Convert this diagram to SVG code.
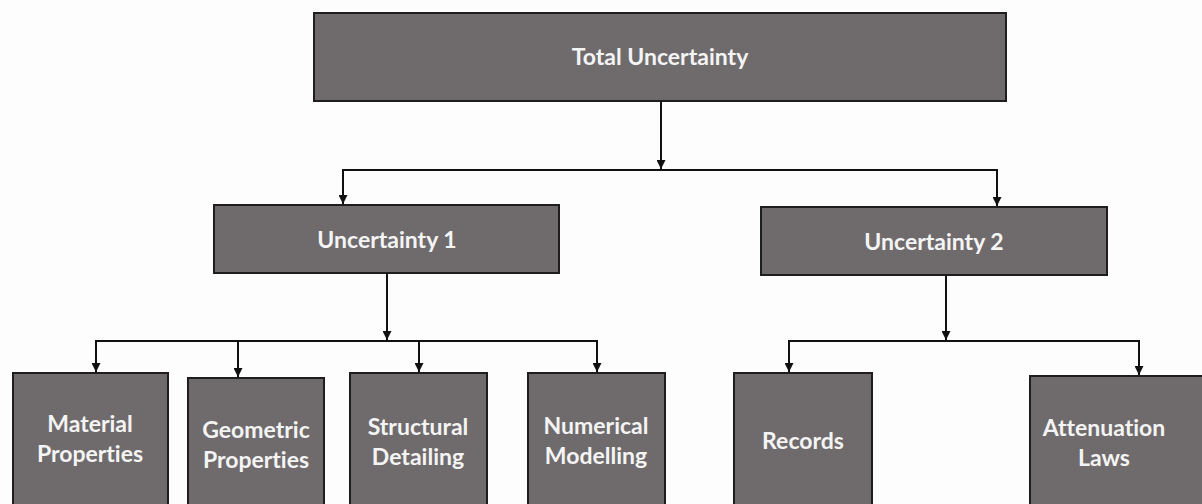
<svg xmlns="http://www.w3.org/2000/svg" width="1202" height="504" viewBox="0 0 1202 504">
<defs>
<style>
.box{fill:#6f6b6c;stroke:#1e1e1e;stroke-width:2}
.t{font-family:Lato,"Open Sans",sans-serif;font-weight:bold;font-size:23px;fill:#f4f4f4;text-anchor:middle;font-variant-ligatures:none;font-feature-settings:"liga" 0,"dlig" 0}
.c{fill:none;stroke:#111;stroke-width:2}
</style>
<marker id="a" viewBox="0 0 10 10" refX="10" refY="5" markerWidth="9" markerHeight="9" orient="auto" markerUnits="userSpaceOnUse">
<path d="M0,0 L10,5 L0,10 z" fill="#111"/>
</marker>
</defs>
<rect width="1202" height="504" fill="#fdfdfd"/>
<g id="connectors">
<path class="c" d="M661,101 V169" marker-end="url(#a)"/>
<path class="c" d="M343,190 V170 H997 V190"/>
<path class="c" d="M343,185 V204" marker-end="url(#a)"/>
<path class="c" d="M997,185 V206" marker-end="url(#a)"/>
<path class="c" d="M387,273 V340" marker-end="url(#a)"/>
<path class="c" d="M96,360 V341 H597 V360"/>
<path class="c" d="M96,355 V372" marker-end="url(#a)"/>
<path class="c" d="M238,341 V377" marker-end="url(#a)"/>
<path class="c" d="M419,341 V372" marker-end="url(#a)"/>
<path class="c" d="M597,355 V372" marker-end="url(#a)"/>
<path class="c" d="M946,275 V340" marker-end="url(#a)"/>
<path class="c" d="M789,360 V341 H1139 V360"/>
<path class="c" d="M789,355 V372" marker-end="url(#a)"/>
<path class="c" d="M1139,355 V375" marker-end="url(#a)"/>
</g>
<g id="total"><rect class="box" x="314" y="13" width="692" height="88"/><text class="t" x="660" y="65">Total Uncertainty</text></g>
<g id="u1"><rect class="box" x="214" y="205" width="345" height="68"/><text class="t" x="387" y="248">Uncertainty 1</text></g>
<g id="u2"><rect class="box" x="761" y="207" width="346" height="68"/><text class="t" x="934" y="250">Uncertainty 2</text></g>
<g id="material"><rect class="box" x="13" y="373" width="155" height="132"/><text class="t" x="90" y="432">Material</text><text class="t" x="90" y="462">Properties</text></g>
<g id="geometric"><rect class="box" x="188" y="378" width="136" height="130"/><text class="t" x="256" y="438">Geometric</text><text class="t" x="256" y="468">Properties</text></g>
<g id="structural"><rect class="box" x="350" y="373" width="137" height="132"/><text class="t" x="418" y="435">Structural</text><text class="t" x="418" y="465">Detailing</text></g>
<g id="numerical"><rect class="box" x="528" y="373" width="137" height="132"/><text class="t" x="596" y="434">Numerical</text><text class="t" x="596" y="464">Modelling</text></g>
<g id="records"><rect class="box" x="734" y="373" width="138" height="132"/><text class="t" x="803" y="449">Records</text></g>
<g id="attenuation"><rect class="box" x="1030" y="376" width="180" height="132"/><text class="t" x="1104" y="436">Attenuation</text><text class="t" x="1104" y="466">Laws</text></g>
</svg>
